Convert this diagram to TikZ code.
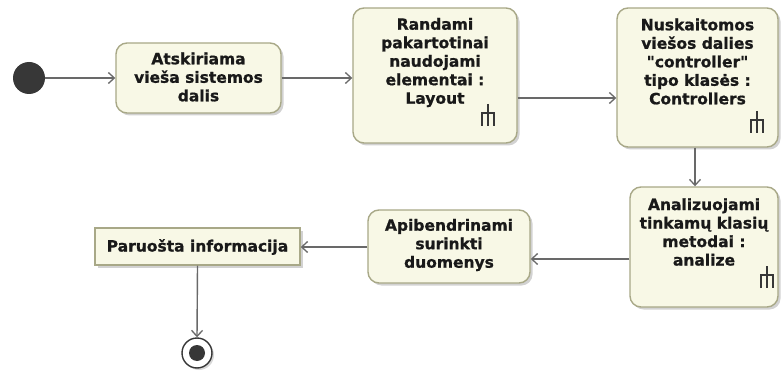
\documentclass[tikz,border=0pt]{standalone}
\usepackage{fontspec}
\setmainfont{DejaVu Sans}[Ligatures=TeXOff, BoldFeatures={FakeBold=0.9}]
\usetikzlibrary{arrows.meta,shadows}
\definecolor{actfill}{RGB}{248,248,230}
\definecolor{actedge}{RGB}{168,168,135}
\definecolor{flow}{RGB}{105,105,105}
\definecolor{dark}{RGB}{55,55,55}
\tikzset{
  x=1pt,y=-1pt,
  act/.style={draw=actedge, line width=1.4pt, fill=actfill, rounded corners=11pt,
    drop shadow={shadow xshift=2.5pt, shadow yshift=-2.5pt, opacity=0.35, fill=gray}},
  obj/.style={draw=actedge, line width=1.4pt, fill=actfill,
    drop shadow={shadow xshift=2.5pt, shadow yshift=-2.5pt, opacity=0.35, fill=gray}},
  txt/.style={align=center, font=\fontsize{15.5}{18.5}\selectfont\bfseries, text=black!90, inner sep=0pt},
  flowline/.style={draw=flow, line width=1.4pt, -{Straight Barb[length=6pt,width=11pt,line width=1.3pt]}},
  rakeline/.style={draw=dark, line width=1.8pt}
}
\newcommand{\myrake}[2]{%
  \draw[rakeline] (#1,#2) -- (#1,#2+22);
  \draw[rakeline] (#1-6,#2+22) -- (#1-6,#2+9) -- (#1+6,#2+9) -- (#1+6,#2+22);
}
\begin{document}
\begin{tikzpicture}
\useasboundingbox (0,0) rectangle (781,374);
\fill[white] (0,0) rectangle (781,374);

\node[circle, fill=dark, minimum size=32pt, inner sep=0pt] (init) at (29,78) {};

\node[act, minimum width=165pt, minimum height=70pt] (n1) at (198.5,78) {};
\node[txt] at (198.5,77) {Atskiriama\\vieša sistemos\\dalis};

\node[act, minimum width=164pt, minimum height=135pt] (n2) at (435,75.5) {};
\node[txt] at (435,62.5) {Randami\\pakartotinai\\naudojami\\elementai :\\Layout};
\myrake{488}{104}

\node[act, minimum width=161pt, minimum height=139pt] (n3) at (697.5,77.5) {};
\node[txt] at (697.5,61.5) {Nuskaitomos\\viešos dalies\\"controller"\\tipo klasės :\\Controllers};
\myrake{757}{111}

\node[act, minimum width=148pt, minimum height=120pt] (n4) at (704,247) {};
\node[txt] at (704,232) {Analizuojami\\tinkamų klasių\\metodai :\\analize};
\myrake{767}{266}

\node[act, minimum width=162pt, minimum height=73pt] (n5) at (449,246.5) {};
\node[txt] at (449,245) {Apibendrinami\\surinkti\\duomenys};

\node[obj, minimum width=205pt, minimum height=37pt] (n6) at (197.5,246.5) {};
\node[txt] at (197.5,247) {Paruošta informacija};

\node[circle, draw=dark, line width=1.4pt, fill=white, minimum size=30pt, inner sep=0pt,
  drop shadow={shadow xshift=2pt, shadow yshift=-2pt, opacity=0.3, fill=gray}] (fin) at (197,353) {};
\node[circle, fill=dark, minimum size=16pt, inner sep=0pt] (finin) at (fin) {};

\draw[flowline] (init.east) -- (n1.west);
\draw[flowline] (n1.east) -- (n2.west |- n1.east);
\draw[flowline] (n2.east |- 0,98) -- (n3.west |- 0,98);
\draw[flowline] (n3.south -| 695,0) -- (n4.north -| 695,0);
\draw[flowline] (n4.west |- 0,259) -- (n5.east |- 0,259);
\draw[flowline] (n5.west |- 0,247) -- (n6.east |- 0,247);
\draw[flowline] (n6.south) -- (fin.north);
\end{tikzpicture}
\end{document}
